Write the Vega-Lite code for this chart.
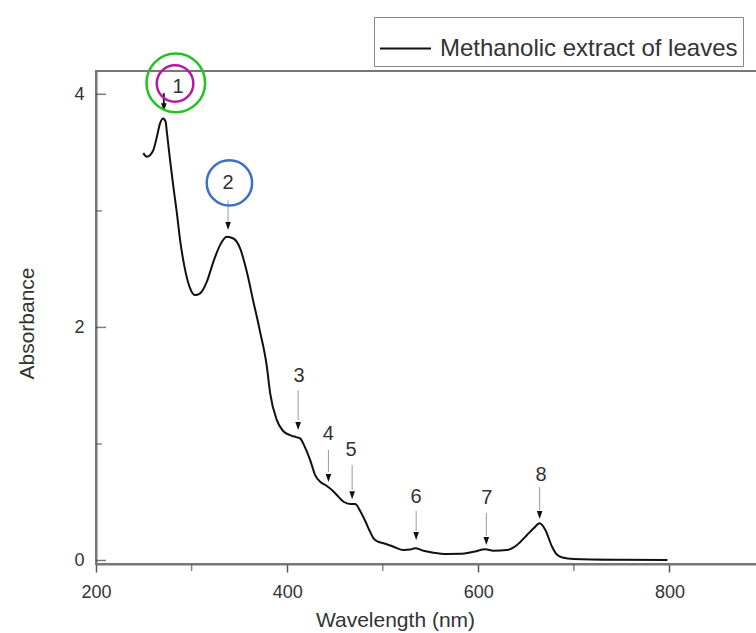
{
  "$schema": "https://vega.github.io/schema/vega-lite/v6.json",
  "autosize": "none",
  "padding": {"left": 96, "top": 71, "right": 0, "bottom": 69},
  "width": 669,
  "height": 493,
  "background": "white",
  "config": {
    "view": {"stroke": "#777", "strokeWidth": 2},
    "font": "Liberation Sans"
  },
  "datasets": {
    "curve": [
      {"wl": 249.5, "A": 3.495}, {"wl": 253.1, "A": 3.465}, {"wl": 256.5, "A": 3.478}, {"wl": 260.0, "A": 3.521},
      {"wl": 263.6, "A": 3.632}, {"wl": 267.0, "A": 3.75}, {"wl": 270.2, "A": 3.792}, {"wl": 272.8, "A": 3.765},
      {"wl": 274.3, "A": 3.664}, {"wl": 277.5, "A": 3.435}, {"wl": 280.9, "A": 3.21}, {"wl": 284.5, "A": 2.989},
      {"wl": 288.0, "A": 2.749}, {"wl": 291.1, "A": 2.586}, {"wl": 294.2, "A": 2.457}, {"wl": 298.4, "A": 2.337},
      {"wl": 303.7, "A": 2.277}, {"wl": 308.9, "A": 2.292}, {"wl": 315.9, "A": 2.391}, {"wl": 322.8, "A": 2.563},
      {"wl": 329.8, "A": 2.706}, {"wl": 336.9, "A": 2.777}, {"wl": 343.8, "A": 2.763}, {"wl": 350.8, "A": 2.678},
      {"wl": 357.8, "A": 2.477}, {"wl": 364.7, "A": 2.22}, {"wl": 371.7, "A": 1.962}, {"wl": 378.7, "A": 1.668},
      {"wl": 382.2, "A": 1.437}, {"wl": 389.2, "A": 1.205}, {"wl": 395.8, "A": 1.111}, {"wl": 403.1, "A": 1.076},
      {"wl": 409.4, "A": 1.059}, {"wl": 413.6, "A": 1.048}, {"wl": 418.8, "A": 0.969}, {"wl": 424.1, "A": 0.862},
      {"wl": 429.3, "A": 0.733}, {"wl": 434.6, "A": 0.676}, {"wl": 441.6, "A": 0.639}, {"wl": 446.8, "A": 0.605},
      {"wl": 452.0, "A": 0.562}, {"wl": 459.0, "A": 0.504}, {"wl": 466.0, "A": 0.485}, {"wl": 471.2, "A": 0.485},
      {"wl": 476.4, "A": 0.425}, {"wl": 481.7, "A": 0.339}, {"wl": 486.9, "A": 0.244}, {"wl": 490.4, "A": 0.19},
      {"wl": 495.3, "A": 0.161}, {"wl": 500.8, "A": 0.148}, {"wl": 511.3, "A": 0.118}, {"wl": 521.8, "A": 0.09},
      {"wl": 528.8, "A": 0.094}, {"wl": 534.0, "A": 0.105}, {"wl": 542.7, "A": 0.084}, {"wl": 553.2, "A": 0.067},
      {"wl": 567.2, "A": 0.056}, {"wl": 581.2, "A": 0.057}, {"wl": 595.1, "A": 0.075}, {"wl": 607.3, "A": 0.096},
      {"wl": 616.0, "A": 0.084}, {"wl": 630.1, "A": 0.09}, {"wl": 640.5, "A": 0.133}, {"wl": 651.0, "A": 0.219},
      {"wl": 657.9, "A": 0.276}, {"wl": 664.2, "A": 0.319}, {"wl": 670.2, "A": 0.262}, {"wl": 677.2, "A": 0.118},
      {"wl": 681.7, "A": 0.056}, {"wl": 688.0, "A": 0.026}, {"wl": 699.8, "A": 0.013}, {"wl": 748.7, "A": 0.006},
      {"wl": 797.9, "A": 0.004}
    ],
    "labels": [
      {"label": "1", "wl": 285.9, "A": 4.06},
      {"label": "2", "wl": 338.2, "A": 3.24},
      {"label": "3", "wl": 412.6, "A": 1.58},
      {"label": "4", "wl": 443.0, "A": 1.085},
      {"label": "5", "wl": 467.0, "A": 0.948},
      {"label": "6", "wl": 535.0, "A": 0.547},
      {"label": "7", "wl": 609.0, "A": 0.533},
      {"label": "8", "wl": 665.7, "A": 0.733}
    ],
    "arrows": [
      {"label": "1", "wl": 271.0, "top": 4.01, "bottom": 3.915, "head": 3.89},
      {"label": "2", "wl": 338.2, "top": 3.09, "bottom": 2.9, "head": 2.87},
      {"label": "3", "wl": 411.5, "top": 1.46, "bottom": 1.205, "head": 1.155},
      {"label": "4", "wl": 443.2, "top": 0.948, "bottom": 0.76, "head": 0.708},
      {"label": "5", "wl": 468.0, "top": 0.82, "bottom": 0.605, "head": 0.56},
      {"label": "6", "wl": 535.0, "top": 0.425, "bottom": 0.253, "head": 0.21},
      {"label": "7", "wl": 608.4, "top": 0.407, "bottom": 0.21, "head": 0.167},
      {"label": "8", "wl": 664.2, "top": 0.63, "bottom": 0.433, "head": 0.39}
    ],
    "circles": [
      {"name": "green", "wl": 283.5, "A": 4.098},
      {"name": "magenta", "wl": 282.7, "A": 4.093},
      {"name": "blue", "wl": 339.6, "A": 3.24}
    ],
    "xminor": [{"wl": 300}, {"wl": 500}, {"wl": 700}],
    "yminor": [{"A": 1}, {"A": 3}],
    "ymajor": [{"A": 0}, {"A": 2}, {"A": 4}]
  },
  "layer": [
    {
      "data": {"name": "xminor"},
      "mark": {"type": "tick", "orient": "vertical", "size": 7, "yOffset": 3.5, "color": "#555", "thickness": 1.5},
      "encoding": {
        "x": {"field": "wl", "type": "quantitative"},
        "y": {"datum": -0.03, "type": "quantitative"}
      }
    },
    {
      "data": {"name": "yminor"},
      "mark": {"type": "tick", "orient": "horizontal", "size": 6, "xOffset": 3, "color": "#555", "thickness": 1.5},
      "encoding": {
        "x": {"datum": 200, "type": "quantitative"},
        "y": {"field": "A", "type": "quantitative"}
      }
    },
    {
      "data": {"name": "ymajor"},
      "mark": {"type": "tick", "orient": "horizontal", "size": 10, "xOffset": 5, "color": "#444", "thickness": 1.5},
      "encoding": {
        "x": {"datum": 200, "type": "quantitative"},
        "y": {"field": "A", "type": "quantitative"}
      }
    },
    {
      "data": {"name": "curve"},
      "mark": {"type": "line", "strokeWidth": 2, "interpolate": "monotone"},
      "encoding": {
        "x": {
          "field": "wl", "type": "quantitative",
          "scale": {"domain": [200, 900], "nice": false, "zero": false},
          "axis": {
            "values": [200, 400, 600, 800], "format": "d", "tickSize": 8, "tickColor": "#555", "tickWidth": 1.5,
            "domainColor": "#777", "domainWidth": 2, "grid": false,
            "labelFontSize": 18, "labelColor": "#333", "labelPadding": 11, "labelFlush": false,
            "title": "Wavelength (nm)", "titleFontSize": 21, "titleFontWeight": "normal", "titleColor": "#333",
            "titleX": 299, "titleY": 62, "titleBaseline": "alphabetic", "titleAlign": "center"
          }
        },
        "y": {
          "field": "A", "type": "quantitative",
          "scale": {"domain": [-0.03, 4.2], "nice": false, "zero": false},
          "axis": {
            "values": [0, 2, 4], "format": "d", "ticks": false,
            "domainColor": "#777", "domainWidth": 2, "grid": false,
            "labelFontSize": 18, "labelColor": "#333", "labelPadding": 12, "labelFlush": false,
            "title": "Absorbance", "titleFontSize": 21, "titleFontWeight": "normal", "titleColor": "#333",
            "titleX": -63, "titleY": 252, "titleAngle": -90, "titleBaseline": "alphabetic", "titleAlign": "center"
          }
        },
        "color": {
          "datum": "Methanolic extract of leaves",
          "scale": {"range": ["#111"]},
          "legend": {
            "orient": "none", "legendX": 278, "legendY": -54, "title": null,
            "strokeColor": "#888", "padding": 5, "symbolType": "stroke", "symbolSize": 2601,
            "symbolStrokeWidth": 2, "labelFontSize": 24, "labelFont": "Liberation Sans",
            "labelColor": "#333", "labelOffset": 8, "labelLimit": 400
          }
        }
      }
    },
    {
      "data": {"name": "arrows"},
      "transform": [{"filter": "datum.label != '1'"}],
      "mark": {"type": "rule", "color": "#999", "strokeWidth": 1},
      "encoding": {
        "x": {"field": "wl", "type": "quantitative"},
        "y": {"field": "top", "type": "quantitative"},
        "y2": {"field": "bottom"}
      }
    },
    {
      "data": {"name": "arrows"},
      "transform": [{"filter": "datum.label == '1'"}],
      "mark": {"type": "rule", "color": "#222", "strokeWidth": 2},
      "encoding": {
        "x": {"field": "wl", "type": "quantitative"},
        "y": {"field": "top", "type": "quantitative"},
        "y2": {"field": "bottom"}
      }
    },
    {
      "data": {"name": "arrows"},
      "mark": {"type": "point", "shape": "M-0.7,-1L0.7,-1L0,1Z", "size": 64, "filled": true, "color": "#111", "opacity": 1},
      "encoding": {
        "x": {"field": "wl", "type": "quantitative"},
        "y": {"field": "head", "type": "quantitative"}
      }
    },
    {
      "data": {"name": "labels"},
      "mark": {"type": "text", "fontSize": 20, "color": "#333", "align": "center", "baseline": "middle", "font": "Liberation Sans"},
      "encoding": {
        "x": {"field": "wl", "type": "quantitative"},
        "y": {"field": "A", "type": "quantitative"},
        "text": {"field": "label"}
      }
    },
    {
      "data": {"name": "circles"},
      "transform": [{"filter": "datum.name == 'green'"}],
      "mark": {"type": "point", "shape": "circle", "size": 3434, "filled": false, "stroke": "#22c322", "strokeWidth": 2.5, "opacity": 1},
      "encoding": {
        "x": {"field": "wl", "type": "quantitative"},
        "y": {"field": "A", "type": "quantitative"}
      }
    },
    {
      "data": {"name": "circles"},
      "transform": [{"filter": "datum.name == 'magenta'"}],
      "mark": {"type": "point", "shape": "circle", "size": 1340, "filled": false, "stroke": "#b4199f", "strokeWidth": 2.5, "opacity": 1},
      "encoding": {
        "x": {"field": "wl", "type": "quantitative"},
        "y": {"field": "A", "type": "quantitative"}
      }
    },
    {
      "data": {"name": "circles"},
      "transform": [{"filter": "datum.name == 'blue'"}],
      "mark": {"type": "point", "shape": "circle", "size": 2061, "filled": false, "stroke": "#3f6fc4", "strokeWidth": 2.5, "opacity": 1},
      "encoding": {
        "x": {"field": "wl", "type": "quantitative"},
        "y": {"field": "A", "type": "quantitative"}
      }
    }
  ]
}
